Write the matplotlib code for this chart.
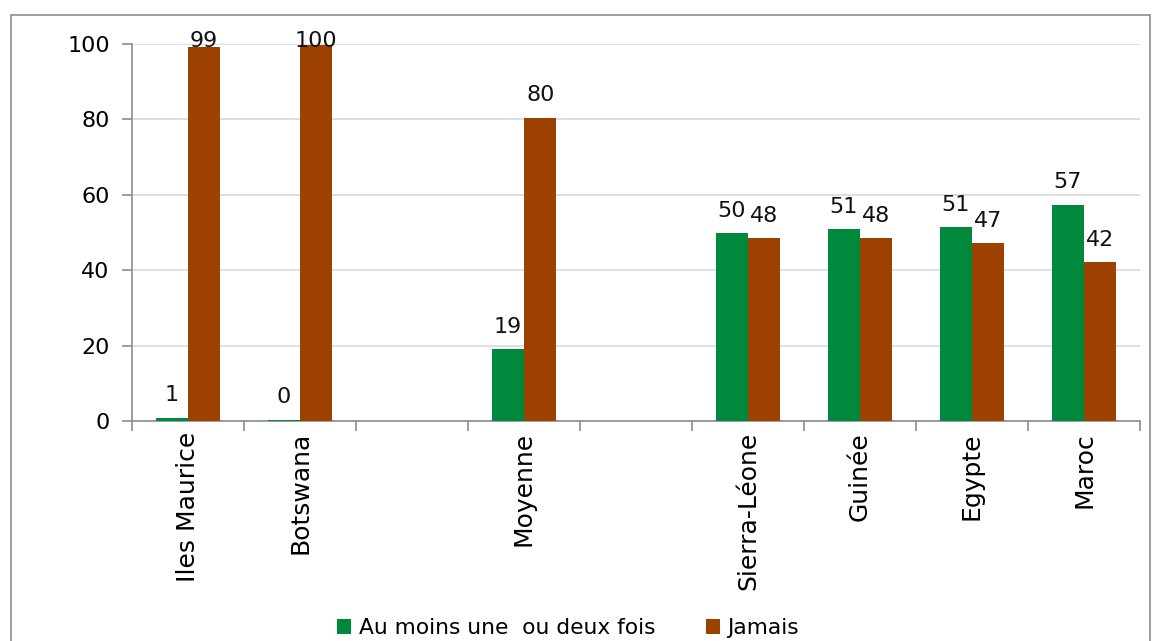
import numpy as np
import matplotlib
matplotlib.use("Agg")
import matplotlib.pyplot as plt
from matplotlib.patches import Rectangle

plt.rcParams['font.family'] = ['DejaVu Sans']

categories = ['Iles Maurice', 'Botswana', '', 'Moyenne', '', 'Sierra-Léone', 'Guinée', 'Egypte', 'Maroc']
au_moins = [0.8, 0.3, np.nan, 19.0, np.nan, 49.8, 50.8, 51.4, 57.3]
jamais = [99.3, 99.7, np.nan, 80.4, np.nan, 48.5, 48.5, 47.2, 42.1]
series_names = ['Au moins une  ou deux fois', 'Jamais']
colors = ['#00883C', '#9C4100']

W, H = 1155, 641
fig = plt.figure(figsize=(W / 100, H / 100), dpi=100)
ax = fig.add_axes([132 / W, 1 - 421 / H, (1140 - 132) / W, (421 - 44) / H])

# cadre gris autour du graphique
fig.patches.append(Rectangle((11 / W, -0.05), (1150 - 11) / W, 1 - 15 / H + 0.05,
                             transform=fig.transFigure, fill=False,
                             edgecolor='#8c8c8c', linewidth=1.2))

x = np.arange(len(categories))
w = 0.29
for i, (vals, name, col) in enumerate(zip([au_moins, jamais], series_names, colors)):
    pos = x - w / 2 + i * w
    ax.bar(pos, vals, width=w, color=col, label=name, zorder=3)
    for p, v in zip(pos, vals):
        if np.isnan(v):
            continue
        # les étiquettes restent dans la zone du graphique
        ytxt = min(v, 98.5)
        ax.annotate(f'{round(v):d}', (p, ytxt), xytext=(0, 9 if v < 97 else -1),
                    textcoords='offset points', ha='center', va='bottom',
                    fontsize=16, color='#111111', zorder=4)

ax.set_xlim(-0.5, len(categories) - 0.5)
ax.set_ylim(0, 100)
ax.set_yticks([0, 20, 40, 60, 80, 100])
ax.yaxis.grid(True, color='#d9d9d9', linewidth=1.2, zorder=0)
ax.set_axisbelow(True)

ax.set_xticks(x)
ax.set_xticklabels(categories, rotation=90, fontsize=18)
ax.tick_params(axis='x', length=0, pad=8)
ax.set_xticks(np.arange(len(categories) + 1) - 0.5, minor=True)
ax.tick_params(axis='x', which='minor', length=7, width=1.2, color='#8c8c8c', direction='out')
ax.tick_params(axis='y', length=7, width=1.2, color='#8c8c8c', labelsize=16, pad=9)

for s in ['top', 'right']:
    ax.spines[s].set_visible(False)
for s in ['left', 'bottom']:
    ax.spines[s].set_color('#8c8c8c')
    ax.spines[s].set_linewidth(1.2)

fig.legend(loc='center', bbox_to_anchor=(0.492, 1 - 628 / H), ncol=2, frameon=False,
           fontsize=15.7, handlelength=0.65, handleheight=0.65, handletextpad=0.35,
           columnspacing=2.3)

fig.savefig('out.png', dpi=100)
